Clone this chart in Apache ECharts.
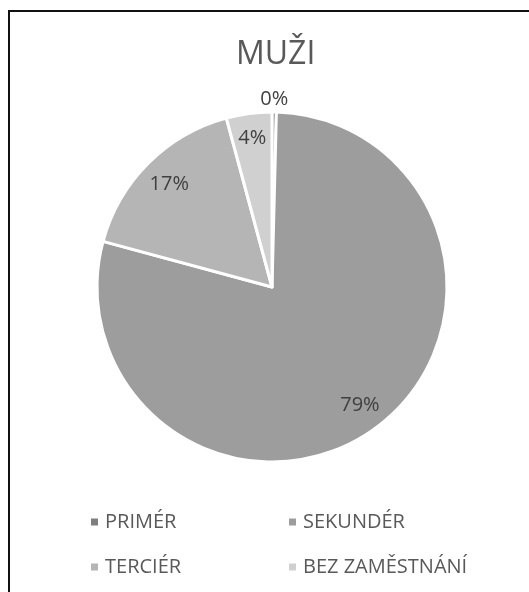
<!DOCTYPE html>
<html>
<head>
<meta charset="utf-8">
<script src="https://cdn.jsdelivr.net/npm/echarts@6/dist/echarts.min.js"></script>
<style>
html, body { margin: 0; padding: 0; background: #fff; }
#frame { position: absolute; left: 8px; top: 10px; width: 600px; height: 700px; border-left: 2px solid #111; border-top: 2px solid #111; }
#chart { position: absolute; left: 0; top: 0; width: 529px; height: 592px; }
</style>
</head>
<body>
<div id="frame"></div>
<div id="chart"></div>
<script>
// data
const categories = ['PRIMÉR', 'SEKUNDÉR', 'TERCIÉR', 'BEZ ZAMĚSTNÁNÍ'];
const shares = [0.4, 78.8, 16.6, 4.2];

// styles
const colors = ['#7f7f7f', '#9d9d9d', '#b5b5b5', '#d0d0d0'];
const labelRadius = [1.07, 0.84, 0.83, 0.86]; // label distance as part of radius
const pieCenter = [272, 287];
const pieRadius = 175;

const chart = echarts.init(document.getElementById('chart'));

const legendBase = {
    orient: 'vertical',
    top: 505,
    icon: 'rect',
    itemWidth: 9,
    itemHeight: 9,
    itemGap: 21,
    selectedMode: false,
    textStyle: { fontFamily: 'Open Sans', fontSize: 20, lineHeight: 24, color: '#595959', padding: [0, 0, 0, 1] }
};

chart.setOption({
    animation: false,
    color: colors,
    title: {
        text: 'MUŽI',
        left: 231,
        top: 34,
        textStyle: { fontFamily: 'Open Sans', fontSize: 32, fontWeight: 'normal', color: '#595959' }
    },
    legend: [
        Object.assign({}, legendBase, { left: 84, data: [categories[0], categories[2]] }),
        Object.assign({}, legendBase, { left: 282, data: [categories[1], categories[3]] })
    ],
    series: [{
        type: 'pie',
        center: pieCenter,
        radius: pieRadius,
        startAngle: 90,
        clockwise: true,
        silent: true,
        itemStyle: { borderColor: '#fff', borderWidth: 3 },
        label: {
            show: true,
            position: 'inside',
            fontFamily: 'Open Sans',
            fontSize: 20,
            color: '#404040',
            formatter: function (p) { return Math.round(p.percent) + '%'; }
        },
        labelLine: { show: false },
        labelLayout: function (p) {
            const r = p.labelRect;
            const dx = r.x + r.width / 2 - pieCenter[0];
            const dy = r.y + r.height / 2 - pieCenter[1];
            const k = labelRadius[p.dataIndex] * pieRadius / Math.hypot(dx, dy);
            return {
                x: pieCenter[0] + dx * k,
                y: pieCenter[1] + dy * k,
                align: 'center',
                verticalAlign: 'middle'
            };
        },
        data: categories.map(function (name, i) { return { name: name, value: shares[i] }; })
    }]
});
</script>
</body>
</html>
